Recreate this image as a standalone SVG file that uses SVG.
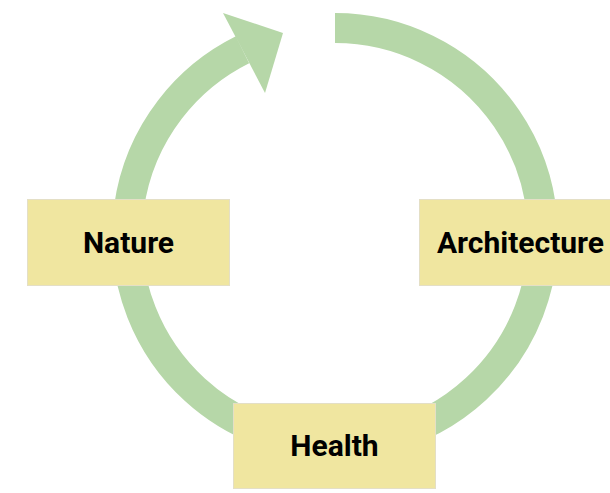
<svg xmlns="http://www.w3.org/2000/svg" width="610" height="493" viewBox="0 0 610 493">
<style>
.box{fill:#f0e6a0;stroke:#e4dfc6;stroke-width:1}
.lbl{font-family:Roboto,"Liberation Sans",Arial,sans-serif;font-weight:bold;font-size:30px;fill:#000;text-anchor:middle}
</style>
<rect width="610" height="493" fill="#fff"/>
<g id="connectors">
<path d="M 335 28 A 208 208 0 1 1 242.5 49.7" fill="none" stroke="#b6d7a8" stroke-width="30"/>
<polygon points="223,13 283,33 265,93" fill="#b6d7a8"/>
</g>
<g id="nature">
<rect class="box" x="27.5" y="199.5" width="202" height="86"/>
<text class="lbl" x="128.5" y="253">Nature</text>
</g>
<g id="architecture">
<rect class="box" x="419.5" y="199.5" width="202" height="86"/>
<text class="lbl" x="520.5" y="253">Architecture</text>
</g>
<g id="health">
<rect class="box" x="233.5" y="403.5" width="202" height="85"/>
<text class="lbl" x="334.5" y="456">Health</text>
</g>
</svg>
